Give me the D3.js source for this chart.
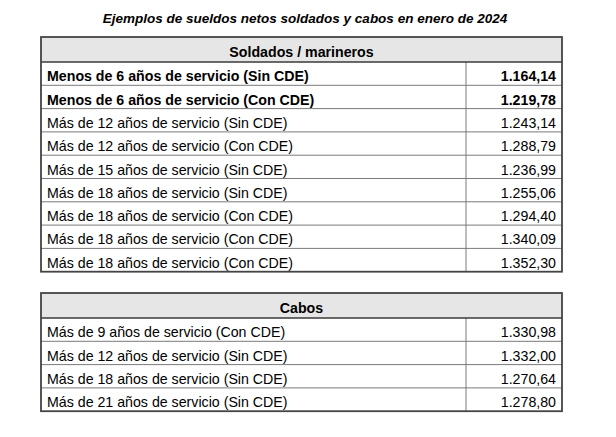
<!DOCTYPE html>
<html>
<head>
<meta charset="utf-8">
<script src="https://cdn.jsdelivr.net/npm/d3@7"></script>
<style>
  body { margin: 0; background: #fff; }
  text { font-family: "Liberation Sans", Arial, sans-serif; }
</style>
</head>
<body>
<svg width="616" height="437"></svg>
<script>
const title = "Ejemplos de sueldos netos soldados y cabos en enero de 2024";

const soldierHeader = "Soldados / marineros";
const soldierLabels = [
    "Menos de 6 años de servicio (Sin CDE)",
    "Menos de 6 años de servicio (Con CDE)",
    "Más de 12 años de servicio (Sin CDE)",
    "Más de 12 años de servicio (Con CDE)",
    "Más de 15 años de servicio (Sin CDE)",
    "Más de 18 años de servicio (Sin CDE)",
    "Más de 18 años de servicio (Con CDE)",
    "Más de 18 años de servicio (Con CDE)",
    "Más de 18 años de servicio (Con CDE)"
];
const soldierValues = [1164.14, 1219.78, 1243.14, 1288.79, 1236.99, 1255.06, 1294.40, 1340.09, 1352.30];
const soldierBold = [true, true, false, false, false, false, false, false, false];

const caboHeader = "Cabos";
const caboLabels = [
    "Más de 9 años de servicio (Con CDE)",
    "Más de 12 años de servicio (Sin CDE)",
    "Más de 18 años de servicio (Sin CDE)",
    "Más de 21 años de servicio (Sin CDE)"
];
const caboValues = [1330.98, 1332.00, 1270.64, 1278.80];
const caboBold = [false, false, false, false];

const svg = d3.select("svg");

// spanish number format: 1.164,14
const fmt = d3.formatLocale({decimal: ",", thousands: ".", grouping: [3], currency: ["", "€"]}).format(",.2f");

const left = 41, right = 562, divider = 466;
const headerH = 25, rowH = 23.3;

svg.append("text")
    .attr("x", 305)
    .attr("y", 23)
    .attr("text-anchor", "middle")
    .attr("font-size", 13.5)
    .attr("font-weight", "bold")
    .attr("font-style", "italic")
    .text(title);

function drawTable(top, header, labels, values, bold) {
    const bottom = top + headerH + rowH * labels.length;
    const y = d3.scaleBand()
        .domain(d3.range(labels.length))
        .range([top + headerH, bottom])
        .paddingInner(0);

    const g = svg.append("g");

    //header cell
    g.append("rect")
        .attr("x", left)
        .attr("y", top)
        .attr("width", right - left)
        .attr("height", headerH)
        .attr("fill", "#e6e6e6");

    g.append("text")
        .attr("x", (left + right) / 2)
        .attr("y", top + headerH - 5)
        .attr("text-anchor", "middle")
        .attr("font-size", 14.2)
        .attr("font-weight", "bold")
        .text(header);

    //row separators
    g.selectAll("line.row")
        .data(d3.range(1, labels.length))
        .join("line")
        .attr("x1", left)
        .attr("x2", right)
        .attr("y1", i => y(i))
        .attr("y2", i => y(i))
        .attr("stroke", "#7a7a7a")
        .attr("stroke-width", 1);

    //column divider
    g.append("line")
        .attr("x1", divider)
        .attr("x2", divider)
        .attr("y1", top + headerH)
        .attr("y2", bottom)
        .attr("stroke", "#7a7a7a")
        .attr("stroke-width", 1);

    //header bottom line
    g.append("line")
        .attr("x1", left)
        .attr("x2", right)
        .attr("y1", top + headerH)
        .attr("y2", top + headerH)
        .attr("stroke", "#3a3a3a")
        .attr("stroke-width", 1.5);

    //labels and values
    g.selectAll("text.label")
        .data(labels)
        .join("text")
        .attr("class", "label")
        .attr("x", left + 6)
        .attr("y", (d, i) => y(i) + rowH - 4)
        .attr("font-size", 14.2)
        .attr("font-weight", (d, i) => bold[i] ? "bold" : "normal")
        .text(d => d);

    g.selectAll("text.value")
        .data(values)
        .join("text")
        .attr("class", "value")
        .attr("x", right - 6)
        .attr("y", (d, i) => y(i) + rowH - 4)
        .attr("text-anchor", "end")
        .attr("font-size", 14.2)
        .attr("font-weight", (d, i) => bold[i] ? "bold" : "normal")
        .text(d => fmt(d));

    //outer border
    g.append("rect")
        .attr("x", left)
        .attr("y", top)
        .attr("width", right - left)
        .attr("height", bottom - top)
        .attr("fill", "none")
        .attr("stroke", "#444")
        .attr("stroke-width", 1.8);
}

drawTable(37, soldierHeader, soldierLabels, soldierValues, soldierBold);
drawTable(293, caboHeader, caboLabels, caboValues, caboBold);
</script>
</body>
</html>
